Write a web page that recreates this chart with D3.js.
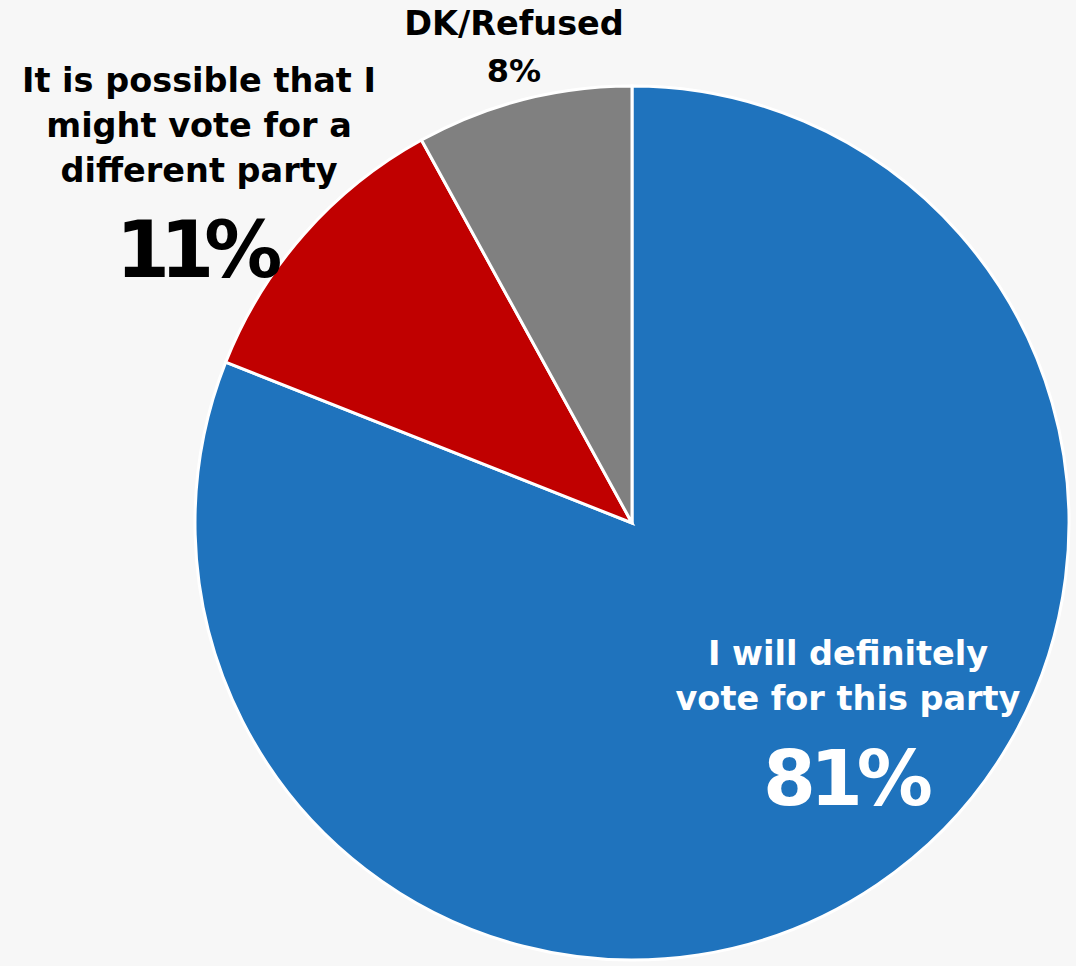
<!DOCTYPE html>
<html>
<head>
<meta charset="utf-8">
<script src="https://cdn.jsdelivr.net/npm/d3@7"></script>
<style>
  body { margin: 0; background: #f7f7f7; }
  text { font-family: "DejaVu Sans", sans-serif; font-weight: bold; }
</style>
</head>
<body>
<script>
// data
var categories = ["I will definitely vote for this party", "It is possible that I might vote for a different party", "DK/Refused"];
var values = [81, 11, 8];
var colors = ["#1f73bd", "#c00000", "#808080"];

// label lines per slice (wrapped like the original)
var labelLines = [
    ["I will definitely", "vote for this party"],
    ["It is possible that I", "might vote for a", "different party"],
    ["DK/Refused"]
];

var settings = {
    width: 1076,
    height: 966,
    cx: 632,
    cy: 523,
    radius: 437
}

var svg = d3.select("body").append("svg")
    .attr("width", settings.width)
    .attr("height", settings.height)
    .style("background", "#f7f7f7");

var pie = d3.pie().sort(null).value((d) => { return d; });
var arc = d3.arc().innerRadius(0).outerRadius(settings.radius);

var arcs = pie(values);

var g = svg.append("g").attr("transform", "translate(" + settings.cx + "," + settings.cy + ")");

g.selectAll("path")
    .data(arcs)
    .enter().append("path")
    .attr("d", arc)
    .attr("fill", (d, i) => { return colors[i]; })
    .attr("stroke", "white")
    .attr("stroke-width", 3);

// label placement (center x, first baseline y, percent baseline, colour, sizes)
var labelPos = [
    {x: 848, y: 665, py: 805, color: "white", size: 33.5, pctSize: 76, ls: -6},
    {x: 199, y: 92, py: 277, color: "black", size: 33.5, pctSize: 78, ls: -10},
    {x: 514, y: 35, py: 82, color: "black", size: 33.5, pctSize: 32, ls: 0}
];

var lineH = 45;

arcs.forEach((d, i) => {
    var p = labelPos[i];
    var lab = svg.append("g");
    labelLines[i].forEach((line, j) => {
        lab.append("text")
            .attr("x", p.x)
            .attr("y", p.y + j * lineH)
            .attr("text-anchor", "middle")
            .attr("fill", p.color)
            .style("font-size", p.size + "px")
            .text(line);
    });
    lab.append("text")
        .attr("x", p.x + p.ls / 2)
        .attr("y", p.py)
        .attr("text-anchor", "middle")
        .attr("fill", p.color)
        .style("font-size", p.pctSize + "px")
        .style("letter-spacing", p.ls + "px")
        .text(values[i] + "%");
});
</script>
</body>
</html>
